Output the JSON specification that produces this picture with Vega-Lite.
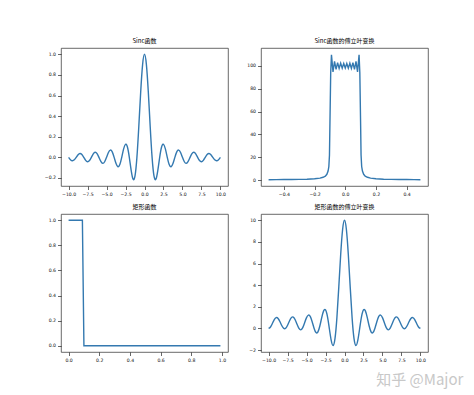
{
  "$schema": "https://vega.github.io/schema/vega-lite/v6.json",
  "padding": {"left": 43, "top": 37, "right": 5, "bottom": 5},
  "background": "white",
  "title": {"text": "知乎 @Major", "orient": "bottom", "anchor": "end", "fontSize": 15, "font": "Noto Sans CJK SC", "color": "#c8c8c8", "fontWeight": "normal", "offset": 10, "dx": 35},
  "datasets": {
    "sinc": [
      {"x": -10, "y": 0}, {"x": -9.75, "y": -0.0231}, {"x": -9.5, "y": -0.0335}, {"x": -9.25, "y": -0.0243},
      {"x": -9, "y": 0}, {"x": -8.75, "y": 0.0257}, {"x": -8.5, "y": 0.0374}, {"x": -8.25, "y": 0.0273},
      {"x": -8, "y": 0}, {"x": -7.75, "y": -0.029}, {"x": -7.5, "y": -0.0424}, {"x": -7.25, "y": -0.031},
      {"x": -7, "y": 0}, {"x": -6.75, "y": 0.0333}, {"x": -6.5, "y": 0.049}, {"x": -6.25, "y": 0.036},
      {"x": -6, "y": 0}, {"x": -5.75, "y": -0.0391}, {"x": -5.5, "y": -0.0579}, {"x": -5.25, "y": -0.0429},
      {"x": -5, "y": 0}, {"x": -4.75, "y": 0.0474}, {"x": -4.5, "y": 0.0707}, {"x": -4.25, "y": 0.053},
      {"x": -4, "y": 0}, {"x": -3.75, "y": -0.06}, {"x": -3.5, "y": -0.0909}, {"x": -3.25, "y": -0.0693},
      {"x": -3, "y": 0}, {"x": -2.75, "y": 0.0818}, {"x": -2.5, "y": 0.1273}, {"x": -2.25, "y": 0.1},
      {"x": -2, "y": 0}, {"x": -1.75, "y": -0.1286}, {"x": -1.5, "y": -0.2122}, {"x": -1.25, "y": -0.1801},
      {"x": -1, "y": 0}, {"x": -0.75, "y": 0.3001}, {"x": -0.5, "y": 0.6366}, {"x": -0.25, "y": 0.9003},
      {"x": 0, "y": 1},
      {"x": 0.25, "y": 0.9003}, {"x": 0.5, "y": 0.6366}, {"x": 0.75, "y": 0.3001}, {"x": 1, "y": 0},
      {"x": 1.25, "y": -0.1801}, {"x": 1.5, "y": -0.2122}, {"x": 1.75, "y": -0.1286}, {"x": 2, "y": 0},
      {"x": 2.25, "y": 0.1}, {"x": 2.5, "y": 0.1273}, {"x": 2.75, "y": 0.0818}, {"x": 3, "y": 0},
      {"x": 3.25, "y": -0.0693}, {"x": 3.5, "y": -0.0909}, {"x": 3.75, "y": -0.06}, {"x": 4, "y": 0},
      {"x": 4.25, "y": 0.053}, {"x": 4.5, "y": 0.0707}, {"x": 4.75, "y": 0.0474}, {"x": 5, "y": 0},
      {"x": 5.25, "y": -0.0429}, {"x": 5.5, "y": -0.0579}, {"x": 5.75, "y": -0.0391}, {"x": 6, "y": 0},
      {"x": 6.25, "y": 0.036}, {"x": 6.5, "y": 0.049}, {"x": 6.75, "y": 0.0333}, {"x": 7, "y": 0},
      {"x": 7.25, "y": -0.031}, {"x": 7.5, "y": -0.0424}, {"x": 7.75, "y": -0.029}, {"x": 8, "y": 0},
      {"x": 8.25, "y": 0.0273}, {"x": 8.5, "y": 0.0374}, {"x": 8.75, "y": 0.0257}, {"x": 9, "y": 0},
      {"x": 9.25, "y": -0.0243}, {"x": 9.5, "y": -0.0335}, {"x": 9.75, "y": -0.0231}, {"x": 10, "y": 0}
    ],
    "sincft": [
      {"x": -0.5, "y": 0.5}, {"x": -0.45, "y": 0.56}, {"x": -0.4, "y": 0.62}, {"x": -0.35, "y": 0.7},
      {"x": -0.3, "y": 0.8}, {"x": -0.25, "y": 0.95}, {"x": -0.2, "y": 1.3}, {"x": -0.165, "y": 1.9},
      {"x": -0.145, "y": 2.6}, {"x": -0.13, "y": 3.6}, {"x": -0.12, "y": 5.2}, {"x": -0.112, "y": 8},
      {"x": -0.107, "y": 12}, {"x": -0.103, "y": 22}, {"x": -0.1, "y": 49.5}, {"x": -0.095, "y": 93.6},
      {"x": -0.09, "y": 109.5}, {"x": -0.08, "y": 94.6}, {"x": -0.07, "y": 103.9}, {"x": -0.06, "y": 96.9},
      {"x": -0.05, "y": 102.7}, {"x": -0.04, "y": 97.6}, {"x": -0.03, "y": 102.2}, {"x": -0.02, "y": 97.9},
      {"x": -0.01, "y": 102}, {"x": 0, "y": 98},
      {"x": 0.01, "y": 102}, {"x": 0.02, "y": 97.9}, {"x": 0.03, "y": 102.2}, {"x": 0.04, "y": 97.6},
      {"x": 0.05, "y": 102.7}, {"x": 0.06, "y": 96.9}, {"x": 0.07, "y": 103.9}, {"x": 0.08, "y": 94.6},
      {"x": 0.09, "y": 109.5}, {"x": 0.095, "y": 93.6}, {"x": 0.1, "y": 49.5}, {"x": 0.103, "y": 22},
      {"x": 0.107, "y": 12}, {"x": 0.112, "y": 8}, {"x": 0.12, "y": 5.2}, {"x": 0.13, "y": 3.6},
      {"x": 0.145, "y": 2.6}, {"x": 0.165, "y": 1.9}, {"x": 0.2, "y": 1.3}, {"x": 0.25, "y": 0.95},
      {"x": 0.3, "y": 0.8}, {"x": 0.35, "y": 0.7}, {"x": 0.4, "y": 0.62}, {"x": 0.45, "y": 0.56},
      {"x": 0.49, "y": 0.52}
    ],
    "rect": [
      {"x": 0, "y": 1}, {"x": 0.09, "y": 1}, {"x": 0.1, "y": 0}, {"x": 0.99, "y": 0}
    ],
    "rectft": [
      {"x": -10, "y": 0}, {"x": -9.75, "y": 0.133}, {"x": -9.5, "y": 0.461}, {"x": -9.25, "y": 0.812},
      {"x": -9, "y": 1}, {"x": -8.75, "y": 0.924}, {"x": -8.5, "y": 0.62}, {"x": -8.25, "y": 0.246},
      {"x": -8, "y": 0}, {"x": -7.75, "y": 0.016}, {"x": -7.5, "y": 0.293}, {"x": -7.25, "y": 0.691},
      {"x": -7, "y": 1}, {"x": -6.75, "y": 1.052}, {"x": -6.5, "y": 0.806}, {"x": -6.25, "y": 0.383},
      {"x": -6, "y": 0}, {"x": -5.75, "y": -0.132}, {"x": -5.5, "y": 0.073}, {"x": -5.25, "y": 0.527},
      {"x": -5, "y": 1}, {"x": -4.75, "y": 1.236}, {"x": -4.5, "y": 1.085}, {"x": -4.25, "y": 0.595},
      {"x": -4, "y": 0}, {"x": -3.75, "y": -0.383}, {"x": -3.5, "y": -0.316}, {"x": -3.25, "y": 0.222},
      {"x": -3, "y": 1}, {"x": -2.75, "y": 1.621}, {"x": -2.5, "y": 1.707}, {"x": -2.25, "y": 1.105},
      {"x": -2, "y": 0}, {"x": -1.75, "y": -1.107}, {"x": -1.5, "y": -1.583}, {"x": -1.25, "y": -0.924},
      {"x": -1, "y": 1}, {"x": -0.75, "y": 3.841}, {"x": -0.5, "y": 6.853}, {"x": -0.25, "y": 9.145},
      {"x": 0, "y": 10},
      {"x": 0.25, "y": 9.145}, {"x": 0.5, "y": 6.853}, {"x": 0.75, "y": 3.841}, {"x": 1, "y": 1},
      {"x": 1.25, "y": -0.924}, {"x": 1.5, "y": -1.583}, {"x": 1.75, "y": -1.107}, {"x": 2, "y": 0},
      {"x": 2.25, "y": 1.105}, {"x": 2.5, "y": 1.707}, {"x": 2.75, "y": 1.621}, {"x": 3, "y": 1},
      {"x": 3.25, "y": 0.222}, {"x": 3.5, "y": -0.316}, {"x": 3.75, "y": -0.383}, {"x": 4, "y": 0},
      {"x": 4.25, "y": 0.595}, {"x": 4.5, "y": 1.085}, {"x": 4.75, "y": 1.236}, {"x": 5, "y": 1},
      {"x": 5.25, "y": 0.527}, {"x": 5.5, "y": 0.073}, {"x": 5.75, "y": -0.132}, {"x": 6, "y": 0},
      {"x": 6.25, "y": 0.383}, {"x": 6.5, "y": 0.806}, {"x": 6.75, "y": 1.052}, {"x": 7, "y": 1},
      {"x": 7.25, "y": 0.691}, {"x": 7.5, "y": 0.293}, {"x": 7.75, "y": 0.016}, {"x": 8, "y": 0},
      {"x": 8.25, "y": 0.246}, {"x": 8.5, "y": 0.62}, {"x": 8.75, "y": 0.924}, {"x": 9, "y": 1},
      {"x": 9.25, "y": 0.812}, {"x": 9.5, "y": 0.461}, {"x": 9.75, "y": 0.133}, {"x": 10, "y": 0}
    ]
  },
  "columns": 2,
  "spacing": {"row": 28, "column": 33},
  "bounds": "flush",
  "concat": [
    {
      "title": "Sinc函数",
      "width": 167, "height": 138,
      "data": {"name": "sinc"},
      "mark": {"type": "line", "interpolate": "natural"},
      "encoding": {
        "x": {"field": "x", "type": "quantitative", "title": null, "scale": {"domain": [-11, 11], "nice": false, "zero": false}, "axis": {"values": [-10, -7.5, -5, -2.5, 0, 2.5, 5, 7.5, 10], "format": ".1f"}},
        "y": {"field": "y", "type": "quantitative", "title": null, "scale": {"domain": [-0.278, 1.061], "nice": false, "zero": false}, "axis": {"values": [-0.2, 0, 0.2, 0.4, 0.6, 0.8, 1.0], "format": ".1f"}}
      }
    },
    {
      "title": "Sinc函数的傅立叶变换",
      "width": 167, "height": 138,
      "data": {"name": "sincft"},
      "mark": {"type": "line", "interpolate": "linear"},
      "encoding": {
        "x": {"field": "x", "type": "quantitative", "title": null, "scale": {"domain": [-0.5495, 0.5395], "nice": false, "zero": false}, "axis": {"values": [-0.4, -0.2, 0, 0.2, 0.4], "format": ".1f"}},
        "y": {"field": "y", "type": "quantitative", "title": null, "scale": {"domain": [-5, 115.5], "nice": false, "zero": false}, "axis": {"values": [0, 20, 40, 60, 80, 100], "format": "d"}}
      }
    },
    {
      "title": "矩形函数",
      "width": 167, "height": 138,
      "data": {"name": "rect"},
      "mark": {"type": "line", "interpolate": "linear"},
      "encoding": {
        "x": {"field": "x", "type": "quantitative", "title": null, "scale": {"domain": [-0.0495, 1.0395], "nice": false, "zero": false}, "axis": {"values": [0, 0.2, 0.4, 0.6, 0.8, 1.0], "format": ".1f"}},
        "y": {"field": "y", "type": "quantitative", "title": null, "scale": {"domain": [-0.05, 1.05], "nice": false, "zero": false}, "axis": {"values": [0, 0.2, 0.4, 0.6, 0.8, 1.0], "format": ".1f"}}
      }
    },
    {
      "title": "矩形函数的傅立叶变换",
      "width": 167, "height": 138,
      "data": {"name": "rectft"},
      "mark": {"type": "line", "interpolate": "natural"},
      "encoding": {
        "x": {"field": "x", "type": "quantitative", "title": null, "scale": {"domain": [-11, 11], "nice": false, "zero": false}, "axis": {"values": [-10, -7.5, -5, -2.5, 0, 2.5, 5, 7.5, 10], "format": ".1f"}},
        "y": {"field": "y", "type": "quantitative", "title": null, "scale": {"domain": [-2.18, 10.58], "nice": false, "zero": false}, "axis": {"values": [-2, 0, 2, 4, 6, 8, 10], "format": "d"}}
      }
    }
  ],
  "config": {
    "view": {"stroke": "#444444", "strokeWidth": 0.8},
    "axis": {"domain": false, "grid": false, "tickColor": "#000000", "tickWidth": 0.6, "tickSize": 3.5, "labelFontSize": 4.6, "labelFont": "DejaVu Sans", "labelColor": "#111111", "labelPadding": 2, "labelOverlap": false, "labelFlush": false},
    "title": {"fontSize": 6, "font": "Noto Sans CJK SC", "fontWeight": "normal", "offset": 4, "color": "#000000"},
    "line": {"color": "#3479b0", "strokeWidth": 1.4}
  }
}
